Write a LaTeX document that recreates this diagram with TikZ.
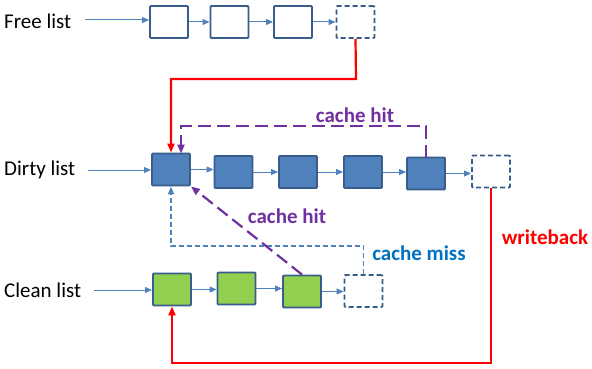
\documentclass[tikz,border=0pt]{standalone}
\usepackage{fontspec}
\setmainfont{Carlito}
\usetikzlibrary{arrows.meta,calc}
\definecolor{boxblue}{RGB}{79,129,189}
\definecolor{boxedge}{RGB}{56,93,138}
\definecolor{boxgreen}{RGB}{146,208,80}
\definecolor{linkblue}{RGB}{79,129,189}
\definecolor{hitpurple}{RGB}{112,48,160}
\definecolor{missblue}{RGB}{0,112,192}
\definecolor{wbred}{RGB}{255,0,0}
\begin{document}
\begin{tikzpicture}[x=1pt,y=-1pt,
  cell/.style={draw=boxedge,line width=1.9pt,minimum width=38pt,minimum height=32pt,inner sep=0pt,rounded corners=1pt},
  freecell/.style={cell,fill=white},
  dirtycell/.style={cell,fill=boxblue},
  cleancell/.style={cell,fill=boxgreen},
  slot/.style={cell,fill=white,dash pattern=on 5pt off 3pt},
  listname/.style={anchor=west,font=\fontsize{21}{23}\selectfont,inner sep=0pt},
  link/.style={draw=linkblue,line width=1pt,-{Triangle[length=7pt,width=6pt]}},
  redpath/.style={draw=wbred,line width=2.2pt,-{Triangle[length=9pt,width=7pt]}},
  hitpath/.style={draw=hitpurple,line width=2.2pt,dash pattern=on 13pt off 6pt,-{Triangle[length=9pt,width=7pt]}},
  misspath/.style={draw=linkblue,line width=1.8pt,dash pattern=on 5pt off 3pt,-{Triangle[length=8pt,width=6pt]}},
  tag/.style={font=\bfseries\fontsize{21}{23}\selectfont,inner sep=0pt}
]
\useasboundingbox (0,0) rectangle (592,369);

% list names
\node[listname] (freename) at (4,21) {Free list};
\node[listname] (dirtyname) at (4,170) {Dirty list};
\node[listname] (cleanname) at (4,290) {Clean list};

% free list
\node[freecell] (f1) at (169,22) {};
\node[freecell] (f2) at (229.5,22) {};
\node[freecell] (f3) at (293,22) {};
\node[slot] (f4) at (355.5,22) {};

% dirty list
\node[dirtycell] (d1) at (171,169.5) {};
\node[dirtycell] (d2) at (233.5,172) {};
\node[dirtycell] (d3) at (298,172) {};
\node[dirtycell] (d4) at (363,172) {};
\node[dirtycell] (d5) at (426,173.5) {};
\node[slot] (d6) at (491,171.5) {};

% clean list
\node[cleancell] (c1) at (172,289.5) {};
\node[cleancell] (c2) at (236.5,288.5) {};
\node[cleancell] (c3) at (302,291.5) {};
\node[slot] (c4) at (363.5,291) {};

% list heads
\coordinate (fin) at (85,20);
\coordinate (din) at (88,170);
\coordinate (cin) at (94,290);
\draw[link] (fin) -- (fin -| f1.west);
\draw[link] (din) -- (din -| d1.west);
\draw[link] (cin) -- (cin -| c1.west);

% links between cells
\draw[link] (f1.east) -- (f1.east -| f2.west);
\draw[link] (f2.east) -- (f2.east -| f3.west);
\draw[link] (f3.east) -- (f3.east -| f4.west);
\draw[link] (d1.east) -- (d1.east -| d2.west);
\draw[link] (d2.east) -- (d2.east -| d3.west);
\draw[link] (d3.east) -- (d3.east -| d4.west);
\draw[link] (d4.east) -- (d4.east -| d5.west);
\draw[link] (d5.east) -- (d5.east -| d6.west);
\draw[link] (c1.east) -- (c1.east -| c2.west);
\draw[link] (c2.east) -- (c2.east -| c3.west);
\draw[link] (c3.east) -- (c3.east -| c4.west);

% free cell taken into the dirty list
\coordinate (fturn) at (356,79);
\draw[redpath] (f4.south) -- (fturn) -| (d1.north);

% hit in the dirty list
\coordinate (hd5) at (426,157.5);
\coordinate (hd1) at (181,153.5);
\draw[hitpath] (hd5) |- (181,126) -- (hd1);
\node[tag,text=hitpurple] (hittop) at (355,115) {cache hit};

% miss: new cell from the clean list tail
\coordinate (mturn) at (363.5,246);
\draw[misspath] (c4.north) -- (mturn) -| (d1.south);
\node[tag,text=missblue] (misstag) at (419,253) {cache miss};

% hit in the clean list
\draw[hitpath] (c3.north) -- (d1.south east);
\node[tag,text=hitpurple] (hitlow) at (287,216) {cache hit};

% writeback into the clean list
\coordinate (wturn) at (491,363);
\draw[redpath] (d6.south) -- (wturn) -| (c1.south);
\node[tag,text=wbred] (wbtag) at (545,237) {writeback};
\end{tikzpicture}
\end{document}
